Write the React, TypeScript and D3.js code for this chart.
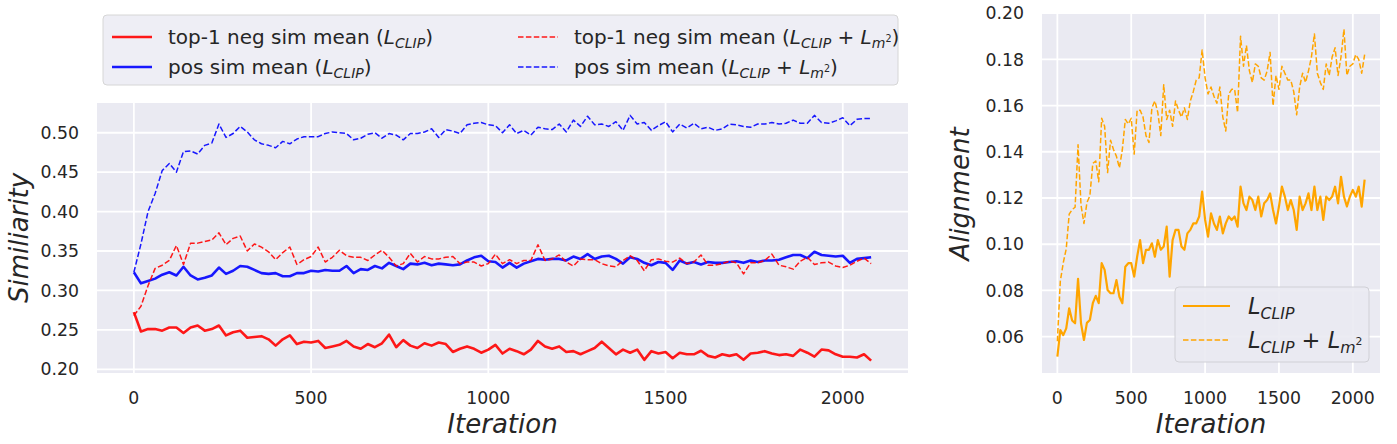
import React from 'react';
import * as d3 from 'd3';

// iteration grid shared by all series (logged every 20 steps)
const ITER = d3.range(0, 2081, 20);

const NEG_CLIP = [
  0.2725, 0.248, 0.251, 0.251, 0.249, 0.253, 0.253, 0.246, 0.253, 0.2555,
  0.249, 0.251, 0.2555, 0.243, 0.247, 0.249, 0.24, 0.241, 0.242, 0.238,
  0.23, 0.238, 0.243, 0.232, 0.235, 0.234, 0.236, 0.227, 0.229, 0.231,
  0.236, 0.229, 0.226, 0.232, 0.228, 0.233, 0.244, 0.228, 0.237, 0.23,
  0.227, 0.233, 0.23, 0.234, 0.232, 0.222, 0.226, 0.229, 0.226, 0.221,
  0.225, 0.231, 0.22, 0.226, 0.223, 0.219, 0.225, 0.236, 0.229, 0.226,
  0.229, 0.222, 0.223, 0.219, 0.223, 0.227, 0.235, 0.227, 0.219, 0.225,
  0.221, 0.225, 0.212, 0.223, 0.22, 0.222, 0.214, 0.221, 0.219, 0.219,
  0.2235, 0.217, 0.215, 0.219, 0.217, 0.219, 0.212, 0.22, 0.221, 0.223,
  0.22, 0.218, 0.219, 0.217, 0.225, 0.221, 0.216, 0.225, 0.224, 0.219,
  0.216, 0.216, 0.215, 0.219, 0.211,
];

const POS_CLIP = [
  0.323, 0.309, 0.312, 0.315, 0.32, 0.323, 0.319, 0.33, 0.319, 0.314,
  0.316, 0.319, 0.329, 0.321, 0.325, 0.331, 0.33, 0.326, 0.322, 0.321,
  0.322, 0.318, 0.318, 0.322, 0.322, 0.325, 0.324, 0.326, 0.325, 0.325,
  0.331, 0.322, 0.327, 0.326, 0.331, 0.328, 0.335, 0.331, 0.327, 0.334,
  0.333, 0.335, 0.332, 0.334, 0.333, 0.332, 0.333, 0.338, 0.342, 0.344,
  0.337, 0.336, 0.329, 0.335, 0.329, 0.334, 0.337, 0.34, 0.339, 0.34,
  0.34, 0.338, 0.343, 0.34, 0.346, 0.34, 0.343, 0.344, 0.34, 0.334,
  0.342, 0.34, 0.335, 0.332, 0.336, 0.335, 0.326, 0.338, 0.334, 0.336,
  0.333, 0.336, 0.335, 0.335, 0.336, 0.337, 0.335, 0.338, 0.336, 0.338,
  0.338, 0.339, 0.342, 0.345, 0.345, 0.341, 0.349, 0.345, 0.344, 0.343,
  0.344, 0.335, 0.34, 0.341, 0.342,
];

const NEG_M2 = [
  0.268, 0.28, 0.306, 0.328, 0.332, 0.338, 0.357, 0.333, 0.36, 0.36,
  0.362, 0.364, 0.373, 0.358, 0.366, 0.369, 0.35, 0.359, 0.355, 0.349,
  0.339, 0.348, 0.355, 0.333, 0.339, 0.343, 0.355, 0.336, 0.342, 0.351,
  0.344, 0.342, 0.342, 0.338, 0.345, 0.351, 0.342, 0.331, 0.334, 0.347,
  0.336, 0.343, 0.34, 0.34, 0.342, 0.343, 0.334, 0.336, 0.336, 0.331,
  0.334, 0.346, 0.334, 0.339, 0.334, 0.338, 0.338, 0.358, 0.338, 0.34,
  0.345, 0.336, 0.331, 0.34, 0.339, 0.339, 0.334, 0.331, 0.33, 0.338,
  0.344, 0.338, 0.325, 0.339, 0.34, 0.337, 0.336, 0.341, 0.334, 0.336,
  0.345, 0.332, 0.332, 0.334, 0.337, 0.335, 0.321, 0.335, 0.335, 0.338,
  0.346, 0.332, 0.33, 0.327, 0.337, 0.342, 0.333, 0.335, 0.336, 0.331,
  0.329, 0.332, 0.337, 0.341, 0.334,
];

const POS_M2 = [
  0.323, 0.359, 0.4, 0.423, 0.452, 0.461, 0.45, 0.476, 0.477, 0.473,
  0.484, 0.487, 0.511, 0.494, 0.499, 0.508, 0.501, 0.491, 0.486, 0.484,
  0.481, 0.489, 0.486, 0.492, 0.495, 0.495, 0.495, 0.499, 0.501, 0.5,
  0.499, 0.491, 0.493, 0.498, 0.5, 0.493, 0.499, 0.497, 0.491, 0.499,
  0.499, 0.501, 0.505, 0.494, 0.504, 0.502, 0.499, 0.51, 0.512, 0.513,
  0.51, 0.509, 0.5, 0.51, 0.499, 0.503, 0.497, 0.507, 0.505, 0.504,
  0.511, 0.501, 0.516, 0.508, 0.521, 0.51, 0.511, 0.508, 0.514, 0.503,
  0.522, 0.511, 0.513, 0.503, 0.509, 0.514, 0.501, 0.511, 0.506, 0.512,
  0.505, 0.507, 0.503, 0.505, 0.511, 0.51, 0.508, 0.507, 0.511, 0.511,
  0.513, 0.511, 0.512, 0.516, 0.512, 0.512, 0.522, 0.513, 0.512, 0.515,
  0.519, 0.509, 0.517, 0.518, 0.518,
];

const ALIGN_CLIP = [
  0.0514, 0.0629, 0.0607, 0.0636, 0.0723, 0.067, 0.0658, 0.085, 0.0658, 0.0586,
  0.066, 0.0672, 0.0745, 0.0777, 0.0745, 0.0918, 0.0889, 0.0802, 0.0788, 0.0788,
  0.0845, 0.0773, 0.0745, 0.0903, 0.0918, 0.0918, 0.086, 0.0946, 0.1018, 0.0918,
  0.0976, 0.0976, 0.1004, 0.0946, 0.1018, 0.0976, 0.099, 0.1076, 0.086, 0.1018,
  0.1062, 0.1062, 0.099, 0.0976, 0.1047, 0.1062, 0.109, 0.109, 0.112, 0.1228,
  0.1106, 0.1033, 0.1134, 0.109, 0.1062, 0.112, 0.1047, 0.109, 0.112, 0.1105,
  0.112, 0.1076, 0.1249, 0.1177, 0.1148, 0.1206, 0.1191, 0.1148, 0.1206, 0.112,
  0.1177, 0.1191, 0.122, 0.1148, 0.109, 0.1163, 0.1249, 0.1206, 0.1148, 0.1191,
  0.1148, 0.1062, 0.1206, 0.1148, 0.1177, 0.122, 0.1148, 0.1249, 0.1148, 0.1206,
  0.1105, 0.1206, 0.1191, 0.1206, 0.1249, 0.1177, 0.1292, 0.1206, 0.1163, 0.1206,
  0.1235, 0.1206, 0.1249, 0.1163, 0.128,
];

const ALIGN_M2 = [
  0.058, 0.084, 0.092, 0.098, 0.113, 0.115, 0.116, 0.143, 0.117, 0.109,
  0.118, 0.121, 0.135, 0.136, 0.127, 0.1545, 0.151, 0.131, 0.145, 0.141,
  0.138, 0.133, 0.141, 0.154, 0.152, 0.1545, 0.139, 0.158, 0.158, 0.155,
  0.147, 0.144, 0.159, 0.162, 0.157, 0.147, 0.169, 0.154, 0.158, 0.151,
  0.162, 0.158, 0.155, 0.159, 0.154, 0.162, 0.166, 0.171, 0.172, 0.184,
  0.172, 0.165, 0.168, 0.164, 0.161, 0.168, 0.155, 0.149, 0.165, 0.167,
  0.167, 0.157, 0.19, 0.177, 0.186, 0.175, 0.17, 0.178, 0.177, 0.172,
  0.171, 0.175, 0.183, 0.16, 0.173, 0.167, 0.177, 0.174, 0.171, 0.171,
  0.166, 0.156, 0.168, 0.174, 0.17, 0.175, 0.181, 0.191, 0.174, 0.17,
  0.167, 0.178, 0.173, 0.181, 0.185, 0.173, 0.181, 0.193, 0.173, 0.177,
  0.178, 0.182, 0.18, 0.174, 0.182,
];

const ITER_TICKS = [0, 500, 1000, 1500, 2000];
const SIM_TICKS = [0.2, 0.25, 0.3, 0.35, 0.4, 0.45, 0.5];
const ALIGN_TICKS = [0.06, 0.08, 0.1, 0.12, 0.14, 0.16, 0.18, 0.2];

const FONT = '"DejaVu Sans", sans-serif';
const INK = '#262626';
const BG = '#EAEAF2';
const DASH = '5.5 2.4';

type Seg = { t: string; it?: boolean; s?: number; dy?: number };

const L_CLIP: Seg[] = [
  { t: 'L', it: true },
  { t: 'CLIP', it: true, s: 0.7, dy: 0.22 },
];
const L_M2: Seg[] = [
  { t: 'L', it: true },
  { t: 'm', it: true, s: 0.7, dy: 0.22 },
  { t: '2', s: 0.48, dy: -0.12 },
];
const PLUS: Seg[] = [{ t: ' + ' }];

// mathtext-ish label: segments with size scale and baseline shift (em)
const Rich: React.FC<{ x: number; y: number; size: number; segs: Seg[] }> = ({ x, y, size, segs }) => {
  let cur = 0;
  const all = [...segs, { t: '', dy: 0 }];
  return (
    <text x={x} y={y} fontSize={size} fill={INK} fontFamily={FONT} style={{ whiteSpace: 'pre' }}>
      {all.map((g, i) => {
        const shift = (g.dy ?? 0) * size;
        const d = shift - cur;
        cur = shift;
        return (
          <tspan key={i} dy={d} fontStyle={g.it ? 'italic' : 'normal'} fontSize={(g.s ?? 1) * size}>
            {g.t}
          </tspan>
        );
      })}
    </text>
  );
};

interface Series {
  values: number[];
  color: string;
  width: number;
  dashed?: boolean;
  opacity?: number;
}

const Panel: React.FC<{
  left: number;
  right: number;
  top: number;
  bottom: number;
  yDomain: [number, number];
  yTicks: number[];
  yFormat: (v: number) => string;
  series: Series[];
}> = ({ left, right, top, bottom, yDomain, yTicks, yFormat, series }) => {
  const x = d3.scaleLinear().domain([-104, 2184]).range([left, right]);
  const y = d3.scaleLinear().domain(yDomain).range([bottom, top]);
  const line = d3
    .line<number>()
    .x((_, i) => x(ITER[i]))
    .y((d) => y(d));

  return (
    <g>
      <rect x={left} y={top} width={right - left} height={bottom - top} fill={BG} />
      {ITER_TICKS.map((t) => (
        <line key={`vx${t}`} x1={x(t)} x2={x(t)} y1={top} y2={bottom} stroke="#fff" strokeWidth={1.8} />
      ))}
      {yTicks.map((t) =>
        y(t) >= top - 1 && y(t) <= bottom ? (
          <line key={`hy${t}`} x1={left} x2={right} y1={y(t)} y2={y(t)} stroke="#fff" strokeWidth={1.8} />
        ) : null
      )}
      {series.map((s, i) => (
        <path
          key={i}
          d={line(s.values) ?? ''}
          fill="none"
          stroke={s.color}
          strokeWidth={s.width}
          strokeDasharray={s.dashed ? DASH : undefined}
          strokeOpacity={s.opacity ?? 1}
          strokeLinejoin="round"
        />
      ))}
      {ITER_TICKS.map((t) => (
        <text key={`tx${t}`} x={x(t)} y={404} textAnchor="middle" fontSize={17.3} fill={INK} fontFamily={FONT}>
          {t}
        </text>
      ))}
      {yTicks.map((t) => (
        <text key={`ty${t}`} x={left - 18} y={y(t) + 6.2} textAnchor="end" fontSize={17.3} fill={INK} fontFamily={FONT}>
          {yFormat(t)}
        </text>
      ))}
      <text
        x={(left + right) / 2}
        y={433}
        textAnchor="middle"
        fontSize={26}
        fontStyle="italic"
        fill={INK}
        fontFamily={FONT}
      >
        Iteration
      </text>
    </g>
  );
};

export default function App() {
  const fmt2 = d3.format('.2f');
  const red = '#ff0000';
  const blue = '#0000ff';
  const orange = '#ffa500';

  const leftLegend = [
    { col: 0, row: 0, color: red, width: 2.6, dashed: false, segs: [{ t: 'top-1 neg sim mean (' }, ...L_CLIP, { t: ')' }] },
    { col: 0, row: 1, color: blue, width: 2.6, dashed: false, segs: [{ t: 'pos sim mean (' }, ...L_CLIP, { t: ')' }] },
    {
      col: 1,
      row: 0,
      color: red,
      width: 1.5,
      dashed: true,
      segs: [{ t: 'top-1 neg sim mean (' }, ...L_CLIP, ...PLUS, ...L_M2, { t: ')' }],
    },
    {
      col: 1,
      row: 1,
      color: blue,
      width: 1.5,
      dashed: true,
      segs: [{ t: 'pos sim mean (' }, ...L_CLIP, ...PLUS, ...L_M2, { t: ')' }],
    },
  ];
  const colX = [112, 518];
  const rowY = [37, 67];

  return (
    <div style={{ position: 'absolute', left: 0, top: 0 }}>
      <svg width={1397} height={444} style={{ display: 'block', background: '#fff' }}>
        <Panel
          left={97}
          right={908}
          top={103}
          bottom={373}
          yDomain={[0.1953, 0.5377]}
          yTicks={SIM_TICKS}
          yFormat={fmt2}
          series={[
            { values: NEG_CLIP, color: red, width: 2.6, opacity: 0.9 },
            { values: POS_CLIP, color: blue, width: 2.6, opacity: 0.9 },
            { values: NEG_M2, color: red, width: 1.5, dashed: true, opacity: 0.9 },
            { values: POS_M2, color: blue, width: 1.5, dashed: true, opacity: 0.9 },
          ]}
        />
        <text
          transform="translate(28,238) rotate(-90)"
          textAnchor="middle"
          fontSize={26}
          fontStyle="italic"
          fill={INK}
          fontFamily={FONT}
        >
          Similiarity
        </text>

        {/* left legend, above the plot */}
        <rect x={103} y={15} width={795} height={70} rx={4} fill="#EEEEF5" stroke="#D6D6D6" strokeWidth={1} />
        {leftLegend.map((it, i) => (
          <g key={i}>
            <line
              x1={colX[it.col]}
              x2={colX[it.col] + 40}
              y1={rowY[it.row]}
              y2={rowY[it.row]}
              stroke={it.color}
              strokeWidth={it.width}
              strokeDasharray={it.dashed ? DASH : undefined}
              strokeOpacity={0.9}
            />
            <Rich x={colX[it.col] + 56} y={rowY[it.row] + 7} size={20} segs={it.segs} />
          </g>
        ))}

        <Panel
          left={1042}
          right={1380}
          top={14}
          bottom={373}
          yDomain={[0.0443, 0.1996]}
          yTicks={ALIGN_TICKS}
          yFormat={fmt2}
          series={[
            { values: ALIGN_CLIP, color: orange, width: 2.2 },
            { values: ALIGN_M2, color: orange, width: 1.5, dashed: true },
          ]}
        />
        <text
          transform="translate(969,194) rotate(-90)"
          textAnchor="middle"
          fontSize={26}
          fontStyle="italic"
          fill={INK}
          fontFamily={FONT}
        >
          Alignment
        </text>

        {/* right legend, inside the plot */}
        <rect x={1175} y={287} width={194} height={75} rx={4} fill={BG} fillOpacity={0.9} stroke="#D0D0D6" strokeWidth={1} />
        <line x1={1183} x2={1230} y1={306} y2={306} stroke={orange} strokeWidth={2.2} />
        <line x1={1183} x2={1230} y1={340} y2={340} stroke={orange} strokeWidth={1.5} strokeDasharray={DASH} />
        <Rich x={1248} y={314} size={22.5} segs={L_CLIP} />
        <Rich x={1248} y={348} size={22.5} segs={[...L_CLIP, ...PLUS, ...L_M2]} />
      </svg>
    </div>
  );
}
